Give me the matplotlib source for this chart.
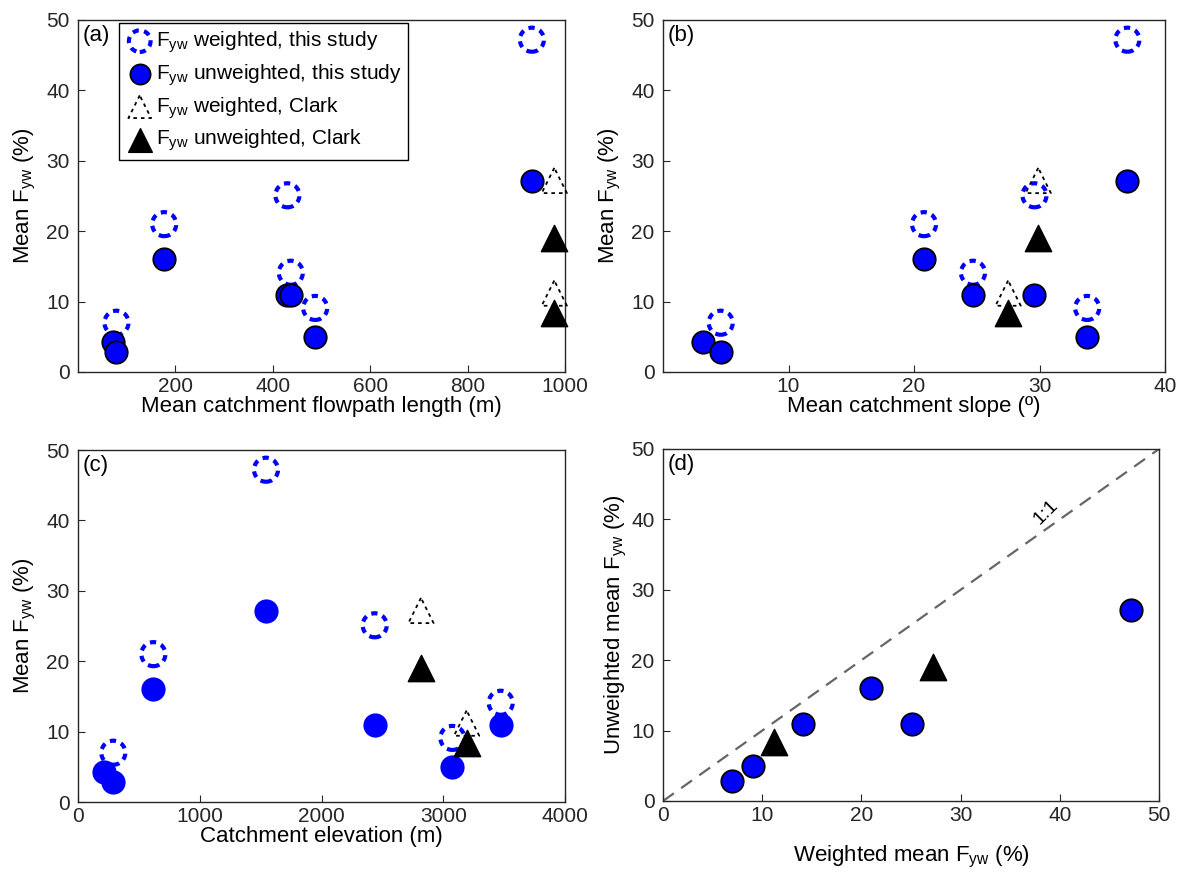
import numpy as np
import matplotlib
matplotlib.use('Agg')
import matplotlib.pyplot as plt

plt.rcParams['font.family'] = ['Liberation Sans', 'DejaVu Sans']
plt.rcParams['mathtext.fontset'] = 'custom'
plt.rcParams['mathtext.rm'] = 'Liberation Sans'
plt.rcParams['mathtext.it'] = 'Liberation Sans'
plt.rcParams['axes.edgecolor'] = '#262626'
plt.rcParams['xtick.color'] = '#262626'
plt.rcParams['ytick.color'] = '#262626'

# this study (one value per catchment; weighted NaN where missing)
flowpath = [71, 79, 177, 430, 437, 487, 932]
slope = [3.2, 4.6, 20.8, 29.6, 24.7, 33.8, 37.0]
elevation = [216, 290, 619, 2437, 3472, 3075, 1544]
fyw_weighted = [np.nan, 7.0, 21.0, 25.1, 14.1, 9.1, 47.2]
fyw_unweighted = [4.2, 2.9, 16.1, 10.9, 10.9, 5.0, 27.2]

# Clark
clark_flowpath = [978, 978]
clark_slope = [29.9, 27.5]
clark_elevation = [2817, 3192]
clark_weighted = [27.2, 11.2]
clark_unweighted = [19.0, 8.4]

W, H = 1180, 874
fig = plt.figure(figsize=(W / 100, H / 100), dpi=100)

def box(l, r, t, b):
    return [l / W, (H - b) / H, (r - l) / W, (b - t) / H]

axa = fig.add_axes(box(78, 565, 20, 372))
axb = fig.add_axes(box(663, 1165, 20, 372))
axc = fig.add_axes(box(78, 565, 450, 802))
axd = fig.add_axes(box(663, 1159, 449, 801))

FS = 16
TS = 15
ring = dict(s=300, facecolors='none', edgecolors='blue', linewidths=3.0,
            linestyles=[(0, (1.5, 1.3))], zorder=3, clip_on=False)
dot = dict(s=260, facecolors='blue', edgecolors='black', linewidths=1.3, zorder=4, clip_on=False)
otri = dict(s=330, marker='^', facecolors='none', edgecolors='black', linewidths=1.3,
            linestyles=[(0, (2.0, 2.2))], zorder=3, clip_on=False)
ftri = dict(s=360, marker='^', facecolors='black', edgecolors='black', linewidths=1, zorder=4,
            clip_on=False)

def style(ax, label):
    ax.tick_params(direction='in', length=5, labelsize=TS, top=False, right=False)
    ax.tick_params(axis='y', pad=6)
    for sp in ax.spines.values():
        sp.set_linewidth(1.0)
    ax.text(0.01, 0.985, label, transform=ax.transAxes, ha='left', va='top', fontsize=FS)

# (a)
h1 = axa.scatter(flowpath, fyw_weighted, **ring)
h2 = axa.scatter(flowpath, fyw_unweighted, **dot)
h3 = axa.scatter(clark_flowpath, clark_weighted, **otri)
h4 = axa.scatter(clark_flowpath, clark_unweighted, **ftri)
axa.set_xlim(0, 1000)
axa.set_xticks([200, 400, 600, 800, 1000])
axa.set_ylim(0, 50)
axa.set_yticks([0, 10, 20, 30, 40, 50])
axa.set_xlabel('Mean catchment flowpath length (m)', fontsize=FS, labelpad=0)
axa.set_ylabel(r'Mean F$_{\mathregular{yw}}$ (%)', fontsize=FS, labelpad=6)
style(axa, '(a)')
leg = axa.legend([h1, h2, h3, h4],
                 [r'F$_{\mathregular{yw}}$ weighted, this study',
                  r'F$_{\mathregular{yw}}$ unweighted, this study',
                  r'F$_{\mathregular{yw}}$ weighted, Clark',
                  r'F$_{\mathregular{yw}}$ unweighted, Clark'],
                 loc='upper left', bbox_to_anchor=(0.084, 0.991), fontsize=15,
                 frameon=True, fancybox=False, framealpha=1, edgecolor='black',
                 handletextpad=0.1, borderpad=0.3, labelspacing=0.35,
                 handlelength=1.4, borderaxespad=0, scatterpoints=1, markerscale=0.9)
leg.get_frame().set_linewidth(1.0)

# (b)
axb.scatter(slope, fyw_weighted, **ring)
axb.scatter(slope, fyw_unweighted, **dot)
axb.scatter(clark_slope, clark_weighted, **otri)
axb.scatter(clark_slope, clark_unweighted, **ftri)
axb.set_xlim(0, 40)
axb.set_xticks([10, 20, 30, 40])
axb.set_ylim(0, 50)
axb.set_yticks([0, 10, 20, 30, 40, 50])
axb.set_xlabel('Mean catchment slope (º)', fontsize=FS, labelpad=0)
axb.set_ylabel(r'Mean F$_{\mathregular{yw}}$ (%)', fontsize=FS, labelpad=6)
style(axb, '(b)')

# (c) - circles without black edge
axc.scatter(elevation, fyw_weighted, **ring)
dot_c = dict(dot)
dot_c['edgecolors'] = 'blue'
axc.scatter(elevation, fyw_unweighted, **dot_c)
axc.scatter(clark_elevation, clark_weighted, **otri)
axc.scatter(clark_elevation, clark_unweighted, **ftri)
axc.set_xlim(0, 4000)
axc.set_xticks([0, 1000, 2000, 3000, 4000])
axc.set_ylim(0, 50)
axc.set_yticks([0, 10, 20, 30, 40, 50])
axc.set_xlabel('Catchment elevation (m)', fontsize=FS, labelpad=0)
axc.set_ylabel(r'Mean F$_{\mathregular{yw}}$ (%)', fontsize=FS, labelpad=6)
style(axc, '(c)')

# (d)
axd.plot([0, 50], [0, 50], color='#666666', linestyle=(0, (6, 4)), linewidth=1.6, zorder=2)
axd.scatter(fyw_weighted, fyw_unweighted, **dot)
axd.scatter(clark_weighted, clark_unweighted, **ftri)
axd.text(38.6, 41.0, '1:1', rotation=45, ha='center', va='center', fontsize=14)
axd.set_xlim(0, 50)
axd.set_xticks([0, 10, 20, 30, 40, 50])
axd.set_ylim(0, 50)
axd.set_yticks([0, 10, 20, 30, 40, 50])
axd.set_xlabel(r'Weighted mean F$_{\mathregular{yw}}$ (%)', fontsize=FS, labelpad=14)
axd.set_ylabel(r'Unweighted mean F$_{\mathregular{yw}}$ (%)', fontsize=FS, labelpad=2)
style(axd, '(d)')

fig.savefig('out.png', dpi=100)
